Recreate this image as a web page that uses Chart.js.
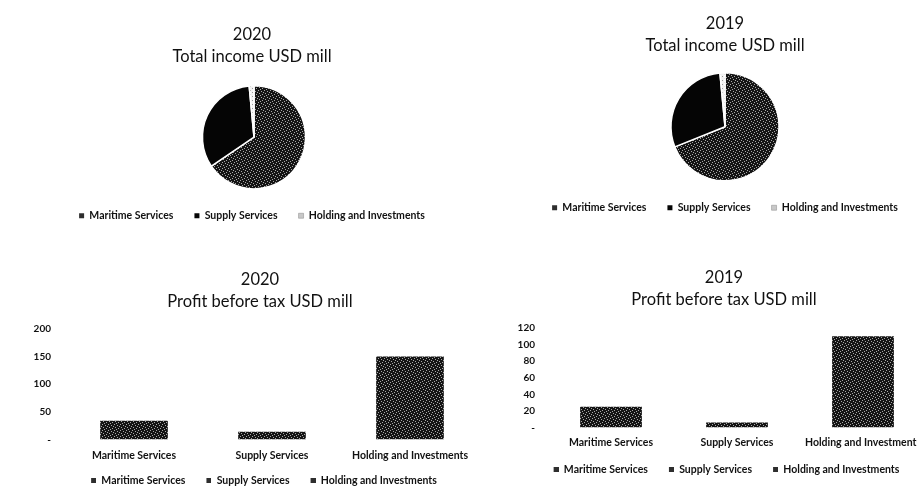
<!DOCTYPE html>
<html>
<head>
<meta charset="utf-8">
<title>Income and profit by segment</title>
<script src="https://cdn.jsdelivr.net/npm/chart.js"></script>
<style>
  html, body { margin: 0; padding: 0; background: #fff; width: 917px; height: 493px; overflow: hidden; }
  canvas { position: absolute; }
</style>
</head>
<body>
<canvas id="pie2020" width="504" height="231" style="left:0;top:0"></canvas>
<canvas id="pie2019" width="470" height="223" style="left:490px;top:0"></canvas>
<canvas id="bar2020" width="520" height="234" style="left:0;top:262px"></canvas>
<canvas id="bar2019" width="468" height="223" style="left:490px;top:262px"></canvas>
<script>
// data
const segments = ['Maritime Services', 'Supply Services', 'Holding and Investments'];
const income2020 = [655, 330, 15];
const income2019 = [689, 296, 15];
const profit2020 = [34, 14, 150];
const profit2019 = [25, 6, 110];
const profitTicks2020 = { max: 200, step: 50 };
const profitTicks2019 = { max: 120, step: 20 };

const FONT = 'Lato, "Open Sans", sans-serif';
const INK = '#111';
Chart.defaults.font.family = FONT;
Chart.defaults.color = INK;

// small speckle tiles, to look like the scanned grey fills
function makePattern(size, bg, fg, dots) {
    const c = document.createElement('canvas');
    c.width = size; c.height = size;
    const g = c.getContext('2d');
    g.fillStyle = bg; g.fillRect(0, 0, size, size);
    g.fillStyle = fg;
    dots.forEach(d => g.fillRect(d[0], d[1], 1, 1));
    return g.createPattern(c, 'repeat');
}
const darkFill = makePattern(6, '#141414', '#a8a8a8', [[0, 0], [3, 1], [5, 2], [1, 3], [4, 4], [2, 5]]);
const lightFill = makePattern(4, '#f2f2f2', '#9a9a9a', [[0, 0], [2, 2]]);

// legend marker with blank room on its left (gives wider gaps between items)
function markerImage(blank, color) {
    const c = document.createElement('canvas');
    c.width = blank + 5; c.height = 5;
    const g = c.getContext('2d');
    g.fillStyle = color;
    g.fillRect(blank, 0, 5, 5);
    return c;
}

const titleFont = { family: FONT, size: 16.5, weight: 'normal', lineHeight: 1.3 };
const smallFont = { family: FONT, size: 10.5, weight: 'bold' };
const tickFont = { family: FONT, size: 10, weight: 'bold' };

// moves the plot area sideways without moving title/legend
const shiftArea = {
    id: 'shiftArea',
    afterLayout(chart, args, opts) {
        if (!opts.dx) return;
        chart.chartArea.left += opts.dx;
        chart.chartArea.right += opts.dx;
    }
};

const pieColors = [darkFill, '#050505', lightFill];
const pieMarks = ['#2e2e2e', '#050505', '#c8c8c8'];

function pieChart(id, year, values, padTop, titlePad, dx) {
    return new Chart(document.getElementById(id), {
        type: 'pie',
        data: {
            labels: segments,
            datasets: [{
                data: values,
                backgroundColor: pieColors,
                borderColor: '#fff',
                borderWidth: 1.5
            }]
        },
        plugins: [shiftArea],
        options: {
            responsive: false,
            animation: false,
            layout: { padding: { top: padTop } },
            plugins: {
                shiftArea: { dx: dx },
                title: {
                    display: true,
                    text: [year, 'Total income USD mill'],
                    color: INK,
                    font: titleFont,
                    padding: titlePad
                },
                legend: {
                    position: 'bottom',
                    labels: {
                        boxWidth: 5, boxHeight: 5, padding: 21, color: INK, font: smallFont,
                        generateLabels: () => segments.map((s, i) => ({
                            text: s, fillStyle: pieMarks[i], strokeStyle: i === 2 ? '#888' : 'transparent',
                            lineWidth: i === 2 ? 0.5 : 0, hidden: false, index: i, fontColor: INK
                        }))
                    }
                },
                tooltip: { enabled: false }
            }
        }
    });
}

function barChart(id, year, values, ticks, o) {
    const mark = markerImage(o.blank, '#2e2e2e');
    return new Chart(document.getElementById(id), {
        type: 'bar',
        data: {
            labels: segments,
            datasets: [{
                data: values,
                backgroundColor: darkFill,
                categoryPercentage: 1,
                barPercentage: 0.49
            }]
        },
        options: {
            responsive: false,
            animation: false,
            layout: { padding: 0 },
            scales: {
                x: {
                    grid: { display: false, drawTicks: false },
                    border: { display: false },
                    ticks: { color: INK, font: smallFont, padding: o.labelPad, maxRotation: 0, autoSkip: false },
                    afterFit(s) { s.height = o.xAxisH; }
                },
                y: {
                    min: 0,
                    max: ticks.max,
                    grid: { display: false, drawTicks: false },
                    border: { display: false },
                    ticks: {
                        stepSize: ticks.step,
                        color: INK,
                        font: tickFont,
                        padding: o.tickPad,
                        callback: v => v === 0 ? '-' : v
                    },
                    afterFit(s) { s.width = o.leftW; }
                },
                yPad: {
                    position: 'right',
                    grid: { display: false, drawTicks: false },
                    border: { display: false },
                    ticks: { display: false },
                    afterFit(s) { s.width = o.rightW; }
                }
            },
            plugins: {
                title: {
                    display: true,
                    text: [year, 'Profit before tax USD mill'],
                    color: INK,
                    font: titleFont,
                    padding: o.titlePad
                },
                legend: {
                    position: 'bottom',
                    labels: {
                        usePointStyle: true,
                        pointStyleWidth: o.blank + 5,
                        boxHeight: 5,
                        padding: o.legendPad,
                        color: INK,
                        font: smallFont,
                        generateLabels: () => segments.map((s, i) => ({
                            text: s, pointStyle: mark, fillStyle: '#2e2e2e', strokeStyle: 'transparent',
                            lineWidth: 0, hidden: false, index: i, fontColor: INK
                        }))
                    }
                },
                tooltip: { enabled: false }
            }
        }
    });
}

pieChart('pie2020', '2020', income2020, 14, { top: 10, bottom: 18 }, 2);
pieChart('pie2019', '2019', income2019, 4, { top: 9, bottom: 16 }, 0);
barChart('bar2020', '2020', profit2020, profitTicks2020,
    { titlePad: { top: 7, bottom: 17 }, leftW: 65, tickPad: 14, rightW: 41, labelPad: 10, xAxisH: 23, legendPad: 13, blank: 8 });
barChart('bar2019', '2019', profit2019, profitTicks2019,
    { titlePad: { top: 5, bottom: 18 }, leftW: 58, tickPad: 13, rightW: 32, labelPad: 9, xAxisH: 21, legendPad: 16, blank: 5 });
</script>
</body>
</html>
